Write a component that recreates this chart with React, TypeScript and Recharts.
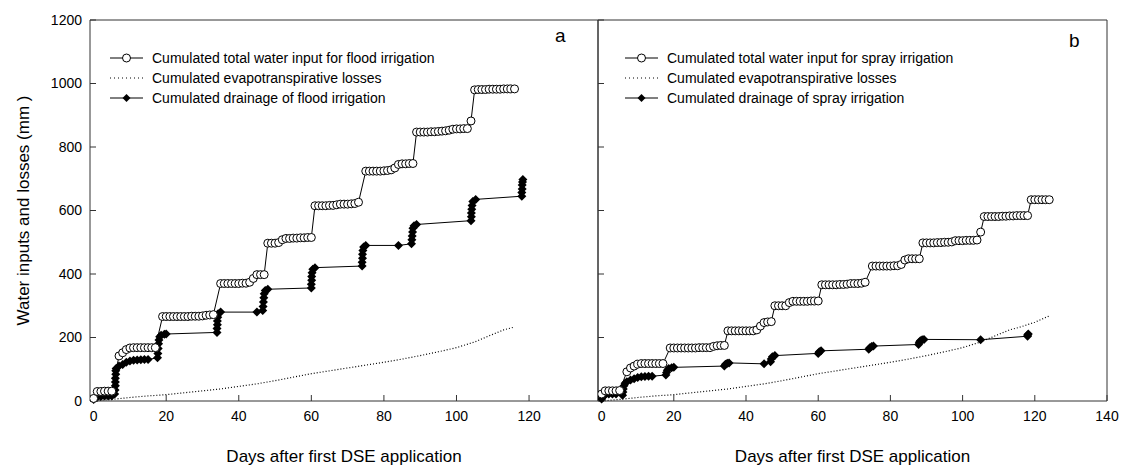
import React from 'react';
import { LineChart, Line, XAxis, YAxis, ReferenceLine, Legend } from 'recharts';

// [day, mm]
const floodInput = [
  [0, 8], [1, 30], [2, 30], [3, 31], [4, 31], [5, 31],
  [7, 142], [8, 152], [9, 162], [10, 167], [11, 168], [12, 168], [13, 168], [14, 168], [15, 168], [16, 168], [17, 168],
  [19, 266], [20, 266], [21, 266], [22, 266], [23, 266], [24, 266], [25, 266], [26, 266], [27, 267], [28, 267], [29, 267], [30, 268], [31, 270], [32, 271], [33, 272],
  [35, 370], [36, 370], [37, 370], [38, 370], [39, 370], [40, 370], [41, 371], [42, 371], [43, 374], [44, 386], [45, 398], [46, 398], [47, 398],
  [48, 497], [49, 497], [50, 497], [51, 499], [52, 508], [53, 512], [54, 512], [55, 513], [56, 513], [57, 514], [58, 514], [59, 515], [60, 515],
  [61, 615], [62, 615], [63, 615], [64, 615], [65, 616], [66, 616], [67, 618], [68, 620], [69, 620], [70, 620], [71, 621], [72, 622], [73, 626],
  [75, 724], [76, 724], [77, 724], [78, 724], [79, 724], [80, 725], [81, 726], [82, 728], [83, 734], [84, 745], [85, 747], [86, 747], [87, 748], [88, 748],
  [89, 847], [90, 847], [91, 847], [92, 847], [93, 848], [94, 848], [95, 849], [96, 850], [97, 851], [98, 853], [99, 856], [100, 857], [101, 857], [102, 858], [103, 858], [104, 882],
  [105, 980], [106, 981], [107, 981], [108, 981], [109, 982], [110, 982], [111, 982], [112, 982], [113, 983], [114, 983], [115, 983], [116, 983],
];

const floodDrainage = [
  [0, 5], [1, 12], [2, 14], [3, 16], [4, 16], [5, 16],
  [5.8, 22], [5.9, 35], [6, 48], [6, 60], [6, 72], [6.1, 84], [6.1, 95], [6.2, 102],
  [7, 110], [8, 115], [9, 122], [10, 126], [11, 128], [12, 129], [13, 130], [14, 131], [15, 131],
  [17.6, 136], [17.7, 150], [17.8, 165], [17.9, 180], [18, 192], [18.2, 202], [18.6, 207], [19.5, 210], [20, 211],
  [34, 216], [34, 228], [34.1, 240], [34.1, 252], [34.2, 264], [34.3, 275], [35, 280],
  [45, 280],
  [46.6, 285], [46.7, 298], [46.8, 312], [46.9, 325], [47, 338], [47.3, 348], [48, 352],
  [60, 356], [60, 368], [60.1, 380], [60.1, 392], [60.2, 404], [60.4, 415], [61, 420],
  [74, 425], [74, 437], [74.1, 450], [74.1, 462], [74.2, 474], [74.4, 485], [75, 490],
  [84, 490],
  [87.6, 495], [87.7, 508], [87.8, 520], [87.9, 532], [88, 544], [88.3, 552], [89, 556],
  [104, 568], [104.1, 580], [104.1, 592], [104.2, 604], [104.3, 616], [104.5, 628], [105.3, 635],
  [118, 645], [118, 657], [118.1, 668], [118.1, 680], [118.2, 690], [118.3, 698],
];

const sprayInput = [
  [0, 22], [1, 32], [2, 32], [3, 32], [4, 32], [5, 33],
  [7, 92], [8, 104], [9, 110], [10, 116], [11, 118], [12, 118], [13, 118], [14, 118], [15, 118], [16, 118], [17, 118],
  [19, 167], [20, 167], [21, 167], [22, 167], [23, 167], [24, 167], [25, 167], [26, 167], [27, 168], [28, 168], [29, 168], [30, 168], [31, 172], [32, 174], [33, 175], [34, 175],
  [35, 221], [36, 221], [37, 221], [38, 221], [39, 221], [40, 221], [41, 221], [42, 221], [43, 224], [44, 236], [45, 247], [46, 249], [47, 250],
  [48, 300], [49, 300], [50, 300], [51, 300], [52, 310], [53, 314], [54, 314], [55, 314], [56, 314], [57, 314], [58, 315], [59, 315], [60, 315],
  [61, 366], [62, 366], [63, 366], [64, 366], [65, 366], [66, 367], [67, 367], [68, 368], [69, 370], [70, 370], [71, 370], [72, 371], [73, 374],
  [75, 425], [76, 425], [77, 425], [78, 425], [79, 425], [80, 425], [81, 426], [82, 426], [83, 430], [84, 444], [85, 448], [86, 448], [87, 448], [88, 448],
  [89, 498], [90, 498], [91, 498], [92, 498], [93, 499], [94, 499], [95, 500], [96, 500], [97, 501], [98, 505], [99, 505], [100, 505], [101, 506], [102, 506], [103, 506], [104, 507], [105, 532],
  [106, 581], [107, 581], [108, 581], [109, 581], [110, 581], [111, 582], [112, 582], [113, 583], [114, 583], [115, 584], [116, 584], [117, 584], [118, 584],
  [119, 634], [120, 634], [121, 634], [122, 634], [123, 634], [124, 634],
];

const sprayDrainage = [
  [0, 6], [0.2, 12], [0.5, 17], [1, 20], [2, 22], [3, 22], [4, 22],
  [5.8, 18], [5.9, 28], [6, 38], [6.2, 48], [6.5, 56], [7, 61], [8, 66], [9, 70], [10, 74], [11, 76], [12, 77], [13, 78], [14, 78],
  [17.8, 82], [18, 90], [18.2, 97], [18.6, 102], [19.4, 105], [20, 106],
  [34, 110], [34.3, 116], [34.8, 119], [35.3, 120],
  [45, 117],
  [46.8, 124], [47, 132], [47.3, 139], [48, 143],
  [60, 150], [60.3, 155], [60.8, 158],
  [74, 163], [74.3, 168], [74.8, 172], [75.3, 173],
  [87.8, 178], [88, 185], [88.3, 190], [88.8, 193], [89.3, 194],
  [105, 193],
  [118, 204], [118, 208], [118.2, 211],
];

const evapotranspiration = [
  [0, 0], [5, 5], [10, 11], [15, 16], [20, 20], [25, 26], [30, 32], [35, 38], [40, 46], [45, 54],
  [50, 64], [55, 75], [60, 86], [65, 95], [70, 104], [75, 113], [80, 122], [85, 132], [90, 143],
  [95, 155], [100, 168], [105, 186], [110, 210], [113, 224], [116, 233], [120, 248], [124, 268],
];

const floodLastDay = 116;
const leftTicks = [0, 20, 40, 60, 80, 100, 120];
const rightTicks = [0, 20, 40, 60, 80, 100, 120, 140];
const yTicks = [0, 200, 400, 600, 800, 1000, 1200];
const floodLegend = [
  'Cumulated total water input for flood irrigation',
  'Cumulated evapotranspirative losses',
  'Cumulated drainage of flood irrigation',
];
const sprayLegend = [
  'Cumulated total water input for spray irrigation',
  'Cumulated evapotranspirative losses',
  'Cumulated drainage of spray irrigation',
];

const toPoints = (rows: number[][]) => rows.map(([day, mm]) => ({ day, mm }));

const AXIS = '#333';
const FONT = '"Liberation Sans", Arial, sans-serif';

const Diamond = (props: any) => {
  const { cx, cy, index } = props;
  if (cx == null || cy == null) return <g key={index} />;
  return <path key={index} d={`M${cx},${cy - 4.5}L${cx + 4.5},${cy}L${cx},${cy + 4.5}L${cx - 4.5},${cy}Z`} fill="#000" />;
};

function LegendRows({ labels }: { labels: string[] }) {
  return (
    <div style={{ fontFamily: FONT }}>
      {labels.map((label, i) => (
        <div key={label} style={{ display: 'flex', alignItems: 'center', height: 20 }}>
          <svg width={42} height={20} style={{ flex: 'none' }}>
            <line x1={0} x2={33} y1={10} y2={10} stroke="#000" strokeDasharray={i === 1 ? '1 3' : undefined} />
            {i === 0 && <circle cx={16.5} cy={10} r={4} fill="#fff" stroke="#000" />}
            {i === 2 && <path d="M16.5,6L20.5,10L16.5,14L12.5,10Z" fill="#000" />}
          </svg>
          <span style={{ fontSize: 14, color: '#000', whiteSpace: 'nowrap' }}>{label}</span>
        </div>
      ))}
    </div>
  );
}

const XTitle = ({ viewBox }: any) => (
  <text x={viewBox.x + viewBox.width / 2} y={462} textAnchor="middle" fontSize={17} fill="#000">
    Days after first DSE application
  </text>
);

const YTitle = ({ viewBox }: any) => {
  const cx = 23;
  const cy = viewBox.y + viewBox.height / 2;
  return (
    <text x={cx} y={cy} transform={`rotate(-90 ${cx} ${cy})`} textAnchor="middle" dominantBaseline="central" fontSize={17} fill="#000">
      Water inputs and losses (mm )
    </text>
  );
};

function Panel({ input, drainage, evap, legend, letter, letterOffset, ticks, xMax, showY, width, margin, yWidth, legendLeft }: any) {
  return (
    <LineChart width={width} height={466} margin={margin}>
      <XAxis
        dataKey="day"
        type="number"
        domain={[-1, xMax]}
        ticks={ticks}
        interval={0}
        allowDataOverflow
        height={60}
        stroke={AXIS}
        tickSize={-6}
        tickMargin={16}
        tick={{ fill: '#000', fontSize: 14 }}
        label={(p: any) => <XTitle {...p} />}
      />
      <YAxis
        dataKey="mm"
        type="number"
        domain={[0, 1200]}
        ticks={yTicks}
        interval={0}
        width={yWidth}
        stroke={AXIS}
        tickSize={-6}
        tickMargin={showY ? 14 : 0}
        tick={showY ? { fill: '#000', fontSize: 14 } : () => <g />}
        label={showY ? (p: any) => <YTitle {...p} /> : undefined}
      />
      <ReferenceLine y={1200} stroke={AXIS} />
      <ReferenceLine x={xMax} stroke={AXIS} />
      <Legend
        layout="vertical"
        align="center"
        verticalAlign="middle"
        wrapperStyle={{ left: legendLeft, top: 47.5, width: 'auto' }}
        content={() => <LegendRows labels={legend} />}
      />
      <Line data={toPoints(evap)} dataKey="mm" stroke="#000" strokeWidth={1.2} strokeDasharray="1 2" dot={false} isAnimationActive={false} />
      <Line data={toPoints(drainage)} dataKey="mm" stroke="#000" strokeWidth={1} dot={Diamond} isAnimationActive={false} />
      <Line data={toPoints(input)} dataKey="mm" stroke="#000" strokeWidth={1} dot={{ r: 4, fill: '#fff', stroke: '#000', strokeWidth: 1 }} isAnimationActive={false} />
      <text x={width - margin.right - letterOffset} y={letter === 'a' ? 42 : 47} fontSize={19} fill="#000">{letter}</text>
    </LineChart>
  );
}

export default function App() {
  return (
    <div style={{ position: 'absolute', left: 0, top: 0, width: 1126, height: 466, background: '#fff', fontFamily: FONT }}>
      <div style={{ position: 'absolute', left: 0, top: 0 }}>
        <Panel
          input={floodInput}
          drainage={floodDrainage}
          evap={evapotranspiration.filter(([d]) => d <= floodLastDay)}
          legend={floodLegend}
          letter="a"
          letterOffset={43}
          ticks={leftTicks}
          xMax={139}
          showY
          width={600}
          yWidth={90}
          margin={{ top: 20, right: 2, bottom: 5, left: 0 }}
          legendLeft={110}
        />
      </div>
      <div style={{ position: 'absolute', left: 560, top: 0 }}>
        <Panel
          input={sprayInput}
          drainage={sprayDrainage}
          evap={evapotranspiration}
          legend={sprayLegend}
          letter="b"
          letterOffset={38}
          ticks={rightTicks}
          xMax={140}
          showY={false}
          width={566}
          yWidth={38}
          margin={{ top: 20, right: 19, bottom: 5, left: 0 }}
          legendLeft={65}
        />
      </div>
    </div>
  );
}
